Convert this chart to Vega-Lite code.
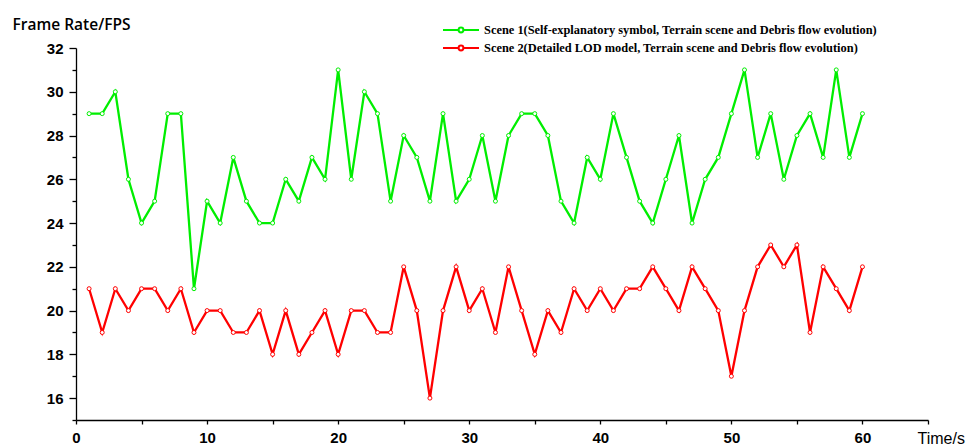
{
  "$schema": "https://vega.github.io/schema/vega-lite/v6.json",
  "width": 852,
  "height": 372,
  "autosize": {"type": "none"},
  "padding": {"left": 76, "top": 48, "right": 39, "bottom": 26},
  "background": "white",
  "config": {
    "view": {"stroke": null},
    "axis": {
      "grid": false,
      "domainColor": "black",
      "tickColor": "black",
      "domainWidth": 1.3,
      "tickWidth": 1.3,
      "labelFont": "Liberation Sans",
      "labelFontWeight": "bold",
      "labelFontSize": 15,
      "labelColor": "black",
      "titleColor": "black"
    }
  },
  "data": {
    "values": [
      {"t": 1, "s1": 29, "s2": 21}, {"t": 2, "s1": 29, "s2": 19}, {"t": 3, "s1": 30, "s2": 21},
      {"t": 4, "s1": 26, "s2": 20}, {"t": 5, "s1": 24, "s2": 21}, {"t": 6, "s1": 25, "s2": 21},
      {"t": 7, "s1": 29, "s2": 20}, {"t": 8, "s1": 29, "s2": 21}, {"t": 9, "s1": 21, "s2": 19},
      {"t": 10, "s1": 25, "s2": 20}, {"t": 11, "s1": 24, "s2": 20}, {"t": 12, "s1": 27, "s2": 19},
      {"t": 13, "s1": 25, "s2": 19}, {"t": 14, "s1": 24, "s2": 20}, {"t": 15, "s1": 24, "s2": 18},
      {"t": 16, "s1": 26, "s2": 20}, {"t": 17, "s1": 25, "s2": 18}, {"t": 18, "s1": 27, "s2": 19},
      {"t": 19, "s1": 26, "s2": 20}, {"t": 20, "s1": 31, "s2": 18}, {"t": 21, "s1": 26, "s2": 20},
      {"t": 22, "s1": 30, "s2": 20}, {"t": 23, "s1": 29, "s2": 19}, {"t": 24, "s1": 25, "s2": 19},
      {"t": 25, "s1": 28, "s2": 22}, {"t": 26, "s1": 27, "s2": 20}, {"t": 27, "s1": 25, "s2": 16},
      {"t": 28, "s1": 29, "s2": 20}, {"t": 29, "s1": 25, "s2": 22}, {"t": 30, "s1": 26, "s2": 20},
      {"t": 31, "s1": 28, "s2": 21}, {"t": 32, "s1": 25, "s2": 19}, {"t": 33, "s1": 28, "s2": 22},
      {"t": 34, "s1": 29, "s2": 20}, {"t": 35, "s1": 29, "s2": 18}, {"t": 36, "s1": 28, "s2": 20},
      {"t": 37, "s1": 25, "s2": 19}, {"t": 38, "s1": 24, "s2": 21}, {"t": 39, "s1": 27, "s2": 20},
      {"t": 40, "s1": 26, "s2": 21}, {"t": 41, "s1": 29, "s2": 20}, {"t": 42, "s1": 27, "s2": 21},
      {"t": 43, "s1": 25, "s2": 21}, {"t": 44, "s1": 24, "s2": 22}, {"t": 45, "s1": 26, "s2": 21},
      {"t": 46, "s1": 28, "s2": 20}, {"t": 47, "s1": 24, "s2": 22}, {"t": 48, "s1": 26, "s2": 21},
      {"t": 49, "s1": 27, "s2": 20}, {"t": 50, "s1": 29, "s2": 17}, {"t": 51, "s1": 31, "s2": 20},
      {"t": 52, "s1": 27, "s2": 22}, {"t": 53, "s1": 29, "s2": 23}, {"t": 54, "s1": 26, "s2": 22},
      {"t": 55, "s1": 28, "s2": 23}, {"t": 56, "s1": 29, "s2": 19}, {"t": 57, "s1": 27, "s2": 22},
      {"t": 58, "s1": 31, "s2": 21}, {"t": 59, "s1": 27, "s2": 20}, {"t": 60, "s1": 29, "s2": 22}
    ]
  },
  "transform": [{"fold": ["s1", "s2"], "as": ["scene", "fps"]}],
  "layer": [
    {
      "mark": {"type": "line", "strokeWidth": 2.3},
      "encoding": {
        "x": {
          "field": "t", "type": "quantitative",
          "scale": {"domain": [0, 65], "nice": false, "zero": false},
          "axis": {
            "values": [0, 5, 10, 15, 20, 25, 30, 35, 40, 45, 50, 55, 60, 65],
            "labelExpr": "datum.value % 10 == 0 ? datum.label : ''",
            "tickSize": 4,
            "labelPadding": 6,
            "labelFlush": false,
            "labelOverlap": false,
            "title": "Time/s",
            "titleFont": "Liberation Sans",
            "titleFontWeight": "normal",
            "titleFontSize": 16,
            "titleX": 841,
            "titleY": 18,
            "titleAlign": "left",
            "titleBaseline": "middle",
            "titleAnchor": null
          }
        },
        "y": {
          "field": "fps", "type": "quantitative",
          "scale": {"domain": [15, 32], "nice": false, "zero": false},
          "axis": {
            "orient": "left",
            "values": [16, 18, 20, 22, 24, 26, 28, 30, 32],
            "tickSize": 7,
            "labelPadding": 6,
            "labelFlush": false,
            "labelOverlap": false,
            "title": "Frame Rate/FPS",
            "titleFont": "Open Sans",
            "titleFontWeight": 600,
            "titleFontSize": 15.5,
            "titleAngle": 0,
            "titleX": -64,
            "titleY": -24,
            "titleAlign": "left",
            "titleBaseline": "middle",
            "titleAnchor": null
          }
        },
        "color": {
          "field": "scene", "type": "nominal",
          "scale": {"domain": ["s1", "s2"], "range": ["#00ee00", "#ff0000"]},
          "legend": {
            "orient": "none",
            "legendX": 378,
            "legendY": -25,
            "title": null,
            "padding": 0,
            "symbolType": "M-3,0H-0.4M0.4,0H3M0.4,0A0.4,0.4 0 1 1 -0.4,0A0.4,0.4 0 1 1 0.4,0Z",
            "symbolSize": 144,
            "symbolStrokeWidth": 2,
            "symbolFillColor": "white",
            "labelFont": "Liberation Serif",
            "labelFontWeight": "bold",
            "labelFontSize": 12.4,
            "labelColor": "black",
            "labelLimit": 0,
            "labelOffset": 16,
            "rowPadding": 4,
            "labelExpr": "datum.value == 's1' ? 'Scene 1(Self-explanatory symbol, Terrain scene and Debris flow evolution)' : 'Scene 2(Detailed LOD model, Terrain scene and Debris flow evolution)'"
          }
        }
      }
    },
    {
      "mark": {"type": "point", "filled": true, "fill": "white", "size": 16, "strokeWidth": 1, "opacity": 1},
      "encoding": {
        "x": {"field": "t", "type": "quantitative"},
        "y": {
          "field": "fps", "type": "quantitative",
          "axis": {
            "orient": "left",
            "values": [15, 17, 19, 21, 23, 25, 27, 29, 31],
            "labels": false,
            "domain": false,
            "tickSize": 4,
            "title": null
          }
        },
        "stroke": {
          "field": "scene", "type": "nominal",
          "scale": {"domain": ["s1", "s2"], "range": ["#00ee00", "#ff0000"]},
          "legend": null
        }
      }
    }
  ],
  "resolve": {"axis": {"y": "independent"}}
}
